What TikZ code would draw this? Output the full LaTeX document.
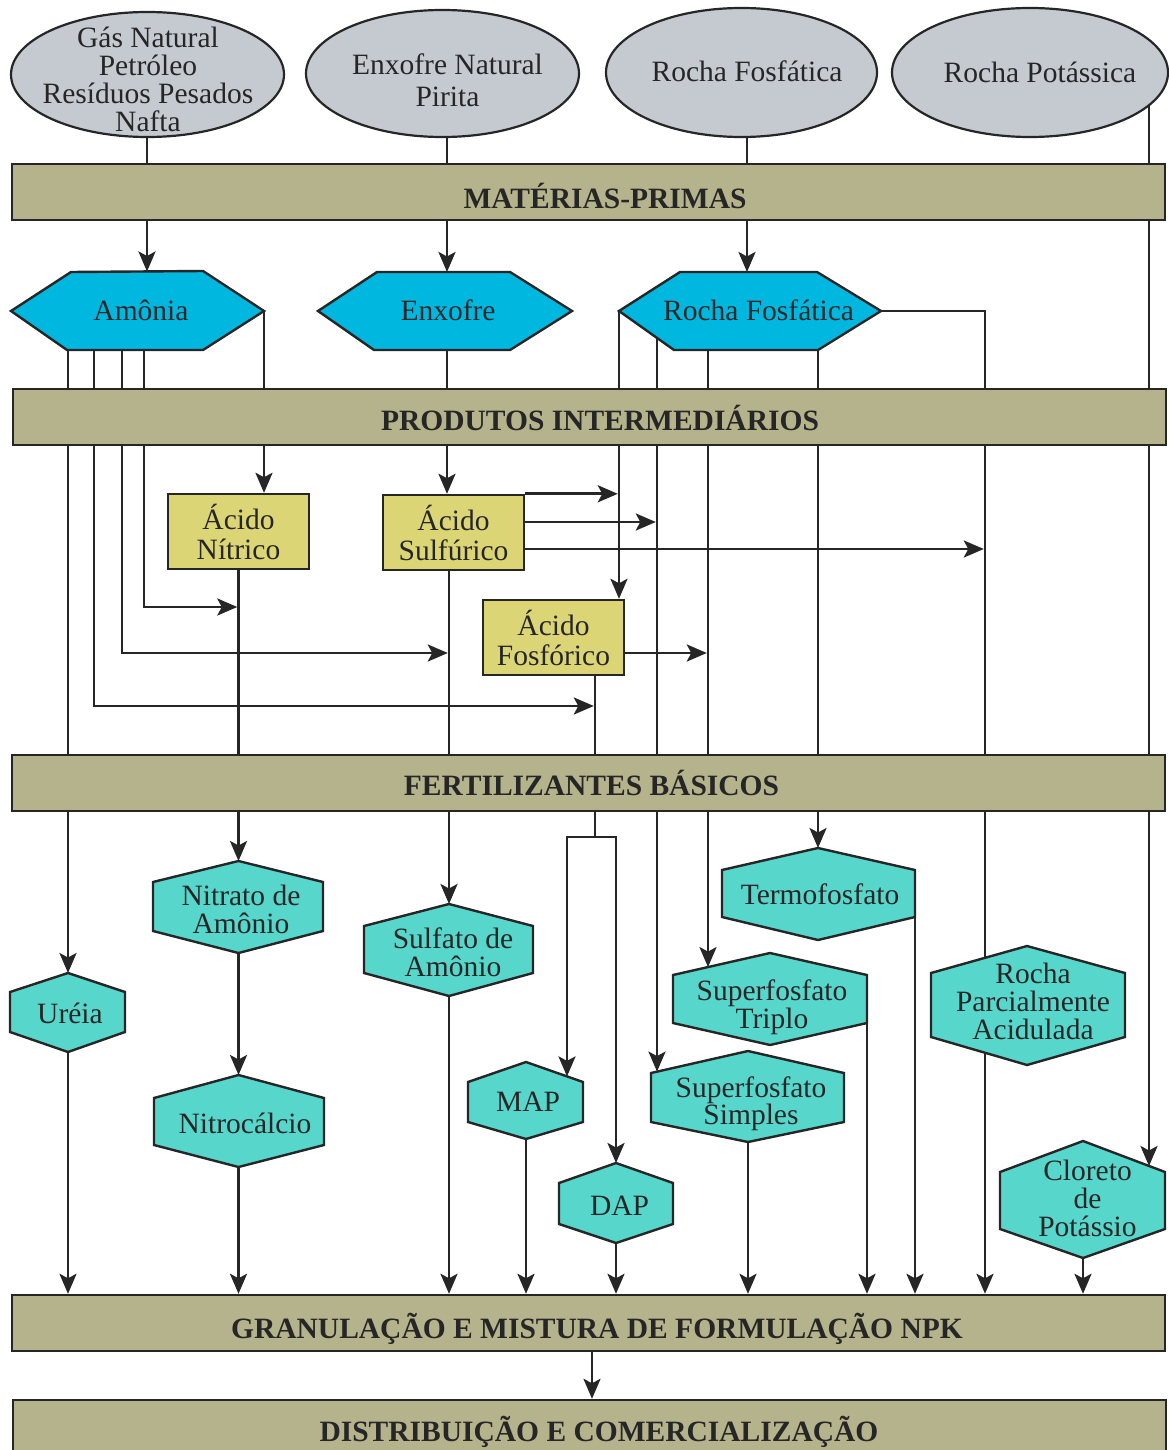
\documentclass[tikz,border=0pt]{standalone}
\usepackage{fontspec}
\setmainfont{Liberation Serif}
\usetikzlibrary{arrows.meta,shapes.geometric,calc}
\pgfdeclarelayer{bg}
\pgfsetlayers{bg,main}
\definecolor{ink}{RGB}{38,38,38}
\definecolor{ellfill}{RGB}{197,202,208}
\definecolor{barfill}{RGB}{181,179,140}
\definecolor{cyanfill}{RGB}{0,183,224}
\definecolor{acidfill}{RGB}{220,213,118}
\definecolor{tealfill}{RGB}{87,214,204}
\newcommand{\hexV}[8]{%
  \draw[hexlow] (#2,#5) coordinate (#1-t) -- (#4,#6) coordinate (#1-ur) -- (#4,#7) coordinate (#1-lr) -- (#2,#8) coordinate (#1-b) -- (#3,#7) coordinate (#1-ll) -- (#3,#6) coordinate (#1-ul) -- cycle;}
\tikzset{
  txt/.style={text=ink, font=\fontsize{29.5}{28}\selectfont, align=center, inner sep=0pt},
  bartxt/.style={text=ink, font=\fontsize{29.5}{28}\selectfont\bfseries, inner sep=0pt, anchor=base},
  ell/.style={ellipse, draw=ink, line width=2.2pt, fill=ellfill, inner sep=0pt},
  barbox/.style={rectangle, draw=ink, line width=2.4pt, fill=barfill, minimum width=1153pt, minimum height=56pt, inner sep=0pt},
  acid/.style={rectangle, draw=ink, line width=2.4pt, fill=acidfill, minimum width=141pt, minimum height=75pt, inner sep=0pt, text=ink, align=center, font=\fontsize{29.5}{30}\selectfont},
  conn/.style={draw=ink, line width=2.8pt},
  arr/.style={conn, -{Stealth[length=20pt,width=17pt,inset=4.5pt]}},
  hexlow/.style={draw=ink, line width=2.4pt, fill=tealfill},
  hexup/.style={draw=ink, line width=2.4pt, fill=cyanfill},
}
\begin{document}
\begin{tikzpicture}[x=1pt,y=-1pt]
\useasboundingbox (0,0) rectangle (1169,1450);

% ---- raw materials (ellipses)
\node[ell, minimum width=273pt, minimum height=125pt] (e1) at (147.5,74.5) {};
\node[ell, minimum width=273pt, minimum height=127pt] (e2) at (442.5,73.5) {};
\node[ell, minimum width=271pt, minimum height=129pt] (e3) at (741.5,72.5) {};
\node[ell, minimum width=276pt, minimum height=129pt] (e4) at (1030,72.5) {};
\node[txt, font=\fontsize{29.5}{28}\selectfont] (e1t) at (148,79.5) {Gás Natural\\Petróleo\\Resíduos Pesados\\Nafta};
\node[txt, font=\fontsize{29.5}{32}\selectfont] (e2t) at (447.5,80) {Enxofre Natural\\Pirita};
\node[txt, anchor=base] (e3t) at (747,81.7) {Rocha Fosfática};
\node[txt, anchor=base] (e4t) at (1040,82.7) {Rocha Potássica};

% ---- bars
\node[barbox] (mp) at (588.5,192) {};
\node[bartxt] (mpt) at (605,208) {MATÉRIAS-PRIMAS};
\node[barbox] (pi) at (589.5,417) {};
\node[bartxt] (pit) at (600,430) {PRODUTOS INTERMEDIÁRIOS};
\node[barbox] (fb) at (588.5,783) {};
\node[bartxt] (fbt) at (591.5,795) {FERTILIZANTES BÁSICOS};
\node[barbox] (gr) at (588.5,1323) {};
\node[bartxt] (grt) at (597,1338.3) {GRANULAÇÃO E MISTURA DE FORMULAÇÃO NPK};
\node[barbox] (dc) at (589.5,1428) {};
\node[bartxt] (dct) at (599,1441.7) {DISTRIBUIÇÃO E COMERCIALIZAÇÃO};

% ---- basic products (horizontal hexagons)
\draw[hexup] (11,311) coordinate (amo-l) -- (71,272) coordinate (amo-tl) -- (203,271) coordinate (amo-tr) -- (264,311) coordinate (amo-r) -- (203,350) coordinate (amo-br) -- (67,350) coordinate (amo-bl) -- cycle;
\node[txt, anchor=base] (amot) at (141,320) {Amônia};
\draw[hexup] (318,311) coordinate (enx-l) -- (377,272) coordinate (enx-tl) -- (510,272) coordinate (enx-tr) -- (572,311) coordinate (enx-r) -- (510,350) coordinate (enx-br) -- (374,350) coordinate (enx-bl) -- cycle;
\node[txt, anchor=base] (enxt) at (448,320.5) {Enxofre};
\draw[hexup] (619,311) coordinate (rf-l) -- (680,272) coordinate (rf-tl) -- (817,272) coordinate (rf-tr) -- (881,311) coordinate (rf-r) -- (818,350) coordinate (rf-br) -- (674,350) coordinate (rf-bl) -- cycle;
\node[txt, anchor=base] (rft) at (758.5,320) {Rocha Fosfática};

% ---- acids
\node[acid] (nitrico) at (238.5,531.5) {Ácido\\Nítrico};
\node[acid] (sulf) at (453.5,532.5) {Ácido\\Sulfúrico};
\node[acid] (fosf) at (553.5,637.5) {Ácido\\Fosfórico};

% ---- fertilizers (vertical hexagons): name, cx, left, right, ytop, yupper, ylower, ybottom
\hexV{ure}{68}{10}{125}{973}{992}{1032}{1052}
\node[txt, anchor=base] (uret) at (70,1023.3) {Uréia};
\hexV{nam}{238.5}{153}{323}{861}{882}{931}{953}
\node[txt] (namt) at (241,909) {Nitrato de\\Amônio};
\hexV{nca}{238.5}{154}{324}{1075}{1098}{1145}{1167}
\node[txt, anchor=base] (ncat) at (245,1133.3) {Nitrocálcio};
\hexV{sa}{449}{364}{533}{904}{926}{973}{996}
\node[txt] (sat) at (453,952) {Sulfato de\\Amônio};
\hexV{map}{526}{468}{583}{1062}{1082}{1122}{1139}
\node[txt, anchor=base] (mapt) at (528,1111.7) {MAP};
\hexV{dap}{616}{559}{673}{1163}{1183}{1224}{1243}
\node[txt, anchor=base] (dapt) at (619.5,1215) {DAP};
\hexV{termo}{818}{722}{915}{848}{870}{917}{940}
\node[txt, anchor=base] (termot) at (820,904) {Termofosfato};
\hexV{sft}{770}{673}{867}{953}{975}{1023}{1045}
\node[txt] (sftt) at (772,1007) {Superfosfato\\Triplo};
\hexV{sfs}{748}{651}{844}{1051}{1073}{1122}{1142}
\node[txt, font=\fontsize{29.5}{27}\selectfont] (sfst) at (751,1103.3) {Superfosfato\\Simples};
\hexV{rpa}{1027}{931}{1125}{946}{973}{1037}{1065}
\node[txt] (rpat) at (1033,1001.3) {Rocha\\Parcialmente\\Acidulada};
\hexV{cl}{1083}{1000}{1165}{1141}{1172}{1229}{1258}
\node[txt] (clt) at (1087.5,1198.6) {Cloreto\\de\\Potássio};

% ---- connection points
\coordinate (amo-in) at (147,271.5);
\coordinate (enx-in) at (447,272);
\coordinate (rf-in) at (747,272);
\coordinate (e4o) at (1149,105);
\coordinate (a1) at (68,350);
\coordinate (a2) at (94,350);
\coordinate (a3) at (122,350);
\coordinate (a4) at (144,350);
\coordinate (j4) at (238.5,607);
\coordinate (j3) at (449,653);
\coordinate (j2) at (595,706);
\coordinate (enx-b) at (447,350);
\coordinate (rf-a) at (657,337.9);
\coordinate (rf-b) at (708,350);
\coordinate (rf-c) at (985,311);
\coordinate (sulf-o) at (449,570);
\coordinate (s2) at ([yshift=10.5pt]sulf.east);
\coordinate (s3) at ([yshift=-16.5pt]sulf.east);
\coordinate (f2) at ([yshift=-15.5pt]fosf.east);
\coordinate (fosf-o) at (595,675);
\coordinate (split) at (595,837);
\coordinate (map-in) at (567,1076.4);
\coordinate (sfs-in) at (657,1071.6);
\coordinate (sft-in) at (708,967.1);
\coordinate (cl-in) at (1149,1166);
\coordinate (rpa-in) at (985,957.8);
\coordinate (rpa-out) at (985,1052.75);
\coordinate (gd) at (592,1351);

% ---- connectors (behind shapes)
\begin{pgfonlayer}{bg}
\draw[arr] (e1.south -| amo-in) -- (amo-in);
\draw[arr] (e2.south -| enx-in) -- (enx-in);
\draw[arr] (e3.south -| rf-in) -- (rf-in);
\draw[arr] (e4o) -- (cl-in);
% ammonia
\draw[arr] (a1) -- (ure-t);
\draw[arr, shorten >=1.2pt] (a2) |- (j2);
\draw[arr, shorten >=1.2pt] (a3) |- (j3);
\draw[arr, shorten >=1.2pt] (a4) |- (j4);
\draw[arr] (amo-r) -- (amo-r |- nitrico.north);
% sulfur
\draw[arr] (enx-b) -- (enx-b |- sulf.north);
\draw[arr, shorten >=1.2pt] (sulf.north east) -- (sulf.north east -| rf-l);
\draw[arr, shorten >=1.2pt] (s2) -- (s2 -| rf-a);
\draw[arr, shorten >=1.2pt] (s3) -- (s3 -| rf-c);
\draw[arr] (sulf-o) -- (sa-t);
% phosphate rock
\draw[arr] (rf-l) -- (rf-l |- fosf.north);
\draw[arr] (rf-a) -- (sfs-in);
\draw[arr] (rf-b) -- (sft-in);
\draw[arr] (rf-br) -- (termo-t);
\draw[conn] (rf-r) -| (rpa-in);
% phosphoric acid
\draw[arr, shorten >=1.2pt] (f2) -- (f2 -| rf-b);
\draw[conn] (fosf-o) -- (split);
\draw[arr] (split) -| (map-in);
\draw[arr] (split) -| (dap-t);
% nitric acid
\draw[arr] (nitrico.south) -- (nam-t);
\draw[arr] (nam-b) -- (nca-t);
% to granulation
\draw[arr] (ure-b) -- (ure-b |- gr.north);
\draw[arr] (nca-b) -- (nca-b |- gr.north);
\draw[arr] (sa-b) -- (sa-b |- gr.north);
\draw[arr] (map-b) -- (map-b |- gr.north);
\draw[arr] (dap-b) -- (dap-b |- gr.north);
\draw[arr] (sfs-b) -- (sfs-b |- gr.north);
\draw[arr] (sft-lr) -- (sft-lr |- gr.north);
\draw[arr] (termo-lr) -- (termo-lr |- gr.north);
\draw[arr] (rpa-out) -- (rpa-out |- gr.north);
\draw[arr] (cl-b) -- (cl-b |- gr.north);
\draw[arr] (gr.south -| gd) -- (dc.north -| gd);
\end{pgfonlayer}
\end{tikzpicture}
\end{document}
